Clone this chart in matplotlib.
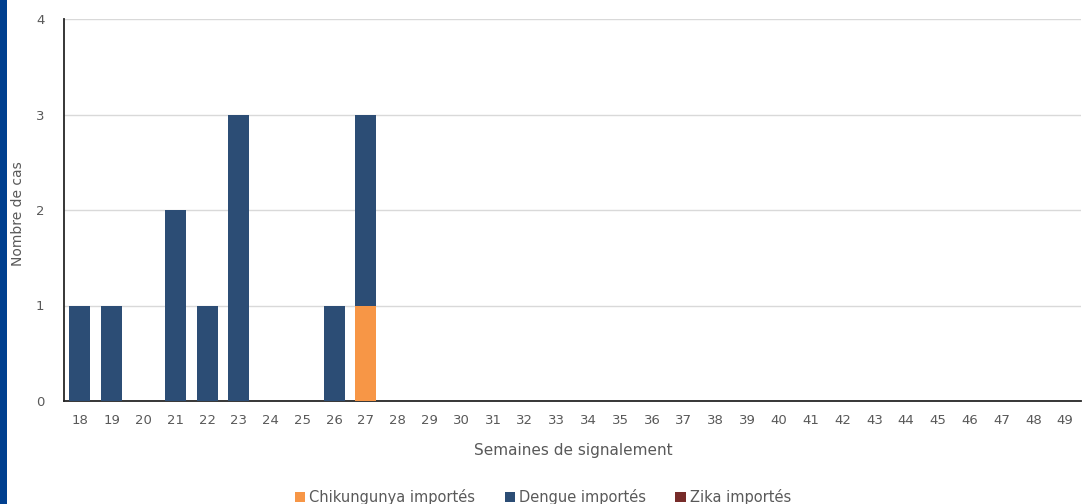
import matplotlib
matplotlib.use("Agg")
import matplotlib.pyplot as plt
from matplotlib.patches import Rectangle, Patch
import numpy as np

weeks = [str(w) for w in range(18, 50)]
chik = [0]*32
dengue = [0]*32
zika = [0]*32
dengue_vals = {18: 1, 19: 1, 21: 2, 22: 1, 23: 3, 26: 1, 27: 2}
chik_vals = {27: 1}
for w, v in dengue_vals.items():
    dengue[w - 18] = v
for w, v in chik_vals.items():
    chik[w - 18] = v

series_names = ["Chikungunya importés", "Dengue importés", "Zika importés"]
colors = ["#F79646", "#2C4D75", "#772C2A"]

plt.rcParams['font.family'] = ['DejaVu Sans']

fig = plt.figure(figsize=(10.83, 5.04), dpi=100)
ax = fig.add_axes([64/1083, 1 - 401/504, (1081-64)/1083, (401-19)/504])

x = np.arange(len(weeks))
w = 0.66
bottom = np.zeros(len(weeks))
for vals, c in zip([chik, dengue, zika], colors):
    vals = np.array(vals, dtype=float)
    ax.bar(x, vals, width=w, bottom=bottom, color=c, zorder=3)
    bottom += vals

ax.set_xlim(-0.5, len(weeks) - 0.5)
ax.set_ylim(0, 4)
ax.set_yticks([0, 1, 2, 3, 4])
ax.set_xticks(x)
ax.set_xticklabels(weeks)
ax.yaxis.grid(True, color="#D9D9D9", linewidth=1, zorder=0)
ax.set_axisbelow(True)
for s in ["top", "right"]:
    ax.spines[s].set_visible(False)
ax.spines["left"].set_color("#262626")
ax.spines["bottom"].set_color("#262626")
ax.spines["left"].set_linewidth(1.3)
ax.spines["bottom"].set_linewidth(1.3)
ax.tick_params(axis="both", length=0, labelsize=9.5, labelcolor="#595959")
ax.tick_params(axis="x", pad=9)
ax.tick_params(axis="y", pad=14)

fig.text(573/1083, 1 - 451/504, "Semaines de signalement", fontsize=11,
         color="#595959", ha="center", va="center")
fig.text(18/1083, 1 - 214/504, "Nombre de cas", fontsize=10, rotation=90,
         color="#595959", ha="center", va="center")

handles = [Patch(facecolor=c, label=n) for c, n in zip(colors, series_names)]
fig.legend(handles=handles, loc="center", bbox_to_anchor=(543/1083, 1 - 497/504),
           ncol=3, frameon=False, fontsize=10.5, labelcolor="#595959",
           handlelength=0.7, handleheight=0.7, handletextpad=0.3, columnspacing=2.0)

fig.patches.append(Rectangle((0, 0), 7/1083, 1, transform=fig.transFigure,
                             facecolor="#003F8F", edgecolor="none", zorder=10))

fig.savefig("out.png", dpi=100)
